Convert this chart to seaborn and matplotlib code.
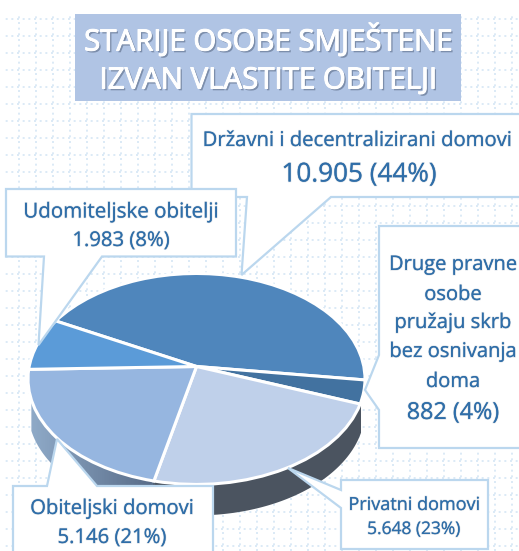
import numpy as np
import matplotlib
matplotlib.use("Agg")
import matplotlib.pyplot as plt
import matplotlib.patheffects as pe
from matplotlib.patches import Polygon
from matplotlib.transforms import Transform
import seaborn as sns

categories = ["Državni i decentralizirani domovi", "Druge pravne osobe pružaju skrb bez osnivanja doma",
              "Privatni domovi", "Obiteljski domovi", "Udomiteljske obitelji"]
values = [10905, 882, 5648, 5146, 1983]
percents = [44, 4, 23, 21, 8]
labels = ["10.905 (44%)", "882 (4%)", "5.648 (23%)", "5.146 (21%)", "1.983 (8%)"]
slice_colors = ["#4F86BC", "#4272A0", "#BFD0EA", "#96B6E0", "#5B9BD8"]
title_lines = ["STARIJE OSOBE SMJEŠTENE", "IZVAN VLASTITE OBITELJI"]

W, H = 519, 551
sns.set_theme(style="white")
plt.rcParams["font.family"] = ["Open Sans", "DejaVu Sans"]
palette = sns.color_palette(slice_colors)
TXT = "#2F6EA9"; EDGE = "#BBD7EE"; GRID = "#D6E6F5"

fig = plt.figure(figsize=(W / 100, H / 100), dpi=100, facecolor="white")
ax = fig.add_axes([0, 0, 1, 1])
ax.set_xlim(0, W); ax.set_ylim(H, 0)
ax.set_xticks(np.arange(19, W, 17)); ax.set_yticks(np.arange(18.5, H, 17))
ax.tick_params(length=0, labelbottom=False, labelleft=False)
ax.grid(True, color=GRID, lw=1.2, ls=(0, (1.2, 2.2)))
sns.despine(ax=ax, left=True, bottom=True)
ax.set_axisbelow(True)
ax.add_patch(Polygon([[0, 0], [W, 0], [W, 13], [0, 13]], fc="white", ec="none", zorder=1))
ax.add_patch(Polygon([[0, 0], [5, 0], [5, H], [0, H]], fc="white", ec="none", zorder=1))

CX, CY, A, S, K = 196.5, 366.5, 167.3, 104.0, 0.118

class Tilt(Transform):
    """Perspective view of the unit disc, in pixel coordinates."""
    input_dims = output_dims = 2
    def transform_non_affine(self, v):
        v = np.asarray(v, float)
        d = 1 + K * v[:, 1]
        return np.column_stack([CX + A * v[:, 0] / d, CY - S * v[:, 1] / d])

tilt = Tilt()

# side wall
DEPTH = 31
th = np.radians(np.linspace(198, 341, 200))
rim = tilt.transform(np.column_stack([np.cos(th), np.sin(th)]))
wall = np.vstack([rim, (rim + [0, DEPTH])[::-1]])
wall_patch = Polygon(wall, closed=True, transform=ax.transData, fc="none", ec="none")
ax.add_patch(wall_patch)
wall_cmap = matplotlib.colors.LinearSegmentedColormap.from_list(
    "wall", [(0, "#8FAAC8"), (0.37, "#586C88"), (0.375, "#4B5460"), (1, "#4B5460")])
im = ax.imshow(np.linspace(0, 1, 332)[None, :], cmap=wall_cmap, aspect="auto",
               extent=(30, 362, 520, 380), zorder=2)
ax.set_xlim(0, W); ax.set_ylim(H, 0)
im.set_clip_path(wall_patch)

# pie
pax = fig.add_axes([0, 0, 1, 1], facecolor="none", zorder=2)
wedges, _ = pax.pie(values, colors=palette, startangle=152.5, counterclock=False,
                    radius=1, wedgeprops=dict(edgecolor="white", linewidth=2.2))
pax.set_aspect("auto")
pax.set_axis_off()
for w in wedges:
    w.set_transform(tilt + ax.transData)
    w.set_clip_on(False)

# overlay with title and callouts
oax = fig.add_axes([0, 0, 1, 1], facecolor="none", zorder=3)
oax.set_xlim(0, W); oax.set_ylim(H, 0); oax.set_axis_off()
oax.add_patch(Polygon([[75, 14], [461, 14], [461, 101], [75, 101]], fc="#B0C4E4", ec="none"))

callouts = [
    [(191.5, 114), (530, 114), (530, 197), (331, 197), (241.5, 275), (247, 197), (191.5, 197)],
    [(6, 189), (236, 189), (236, 256.5), (102, 256.5), (38.5, 345), (44, 256.5), (6, 256.5)],
    [(379, 226), (530, 226), (530, 448), (379, 448), (379, 410), (365, 390), (379, 355)],
    [(341, 480), (488, 480), (488, 549), (341, 549), (341, 508), (288, 468), (341, 490)],
    [(13, 486), (47, 486), (57, 439), (97, 486), (213, 486), (213, 570), (13, 570)],
]
for pts in callouts:
    oax.add_patch(Polygon(pts, closed=True, fc="white", ec=EDGE, lw=1.6, joinstyle="miter"))

soft = [pe.Stroke(linewidth=1.1, foreground=(0.35, 0.45, 0.55, 0.18)), pe.Normal()]
DY = 2
def put(x, y, s, size):
    oax.text(x, y + DY, s, ha="center", va="center", fontsize=size, color=TXT, path_effects=soft)

shadow = [pe.withSimplePatchShadow(offset=(1.3, -1.3), shadow_rgbFace="#5A6A85", alpha=0.6),
          pe.Stroke(linewidth=0.7, foreground="white"), pe.Normal()]
for y, s in zip([39, 79], title_lines):
    oax.text(268, y + DY, s, ha="center", va="center", fontsize=21.2, color="white", path_effects=shadow)

put(357, 139, categories[0], 14.6)
put(359, 173, labels[0], 18.8)
put(121, 210, categories[4], 14.8)
put(121, 239, labels[4], 14.6)
for y, s in zip([263, 293, 321, 350, 380], ["Druge pravne", "osobe", "pružaju skrb", "bez osnivanja", "doma"]):
    put(453, y, s, 14.5)
put(453, 411, labels[1], 16.8)
put(414, 503, categories[2], 13)
put(414, 528, labels[2], 12.5)
put(112, 507, categories[3], 14.6)
put(112, 536, labels[3], 14.6)

fig.savefig("out.png", dpi=100)
